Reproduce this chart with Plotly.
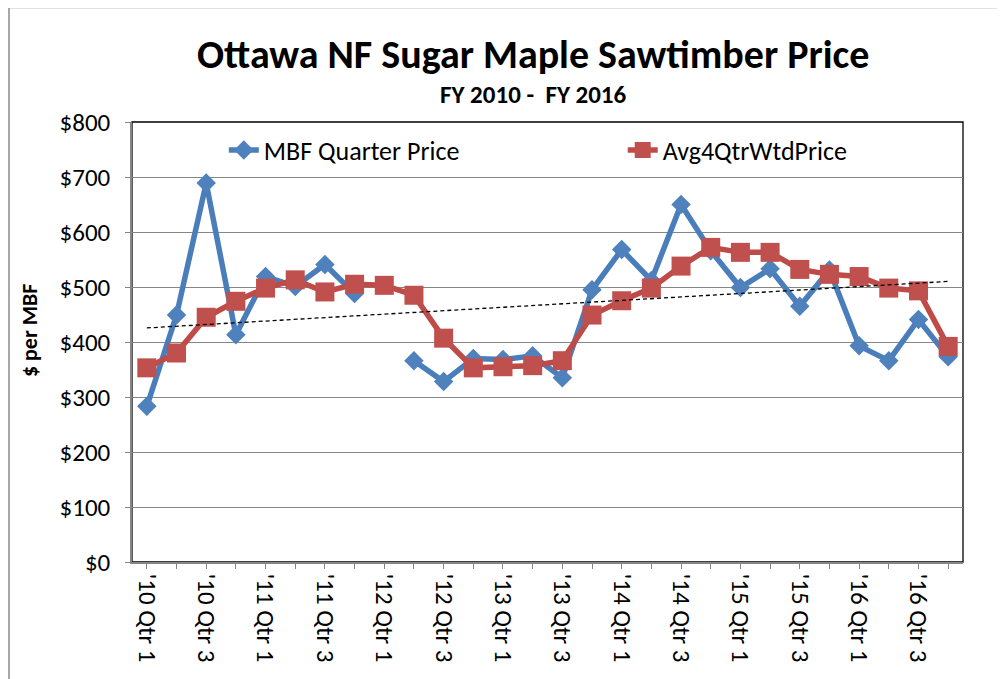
import numpy as np
import plotly.graph_objects as go

# quarters FY2010 Q1 .. FY2016 Q4
quarters = ["'%02d Qtr %d" % (y, q) for y in range(10, 17) for q in range(1, 5)]

# MBF Quarter Price (FY12 Qtr 1 has no sale)
mbf_price = [283, 449, 689, 413, 519, 501, 541, 488,
             None, 366, 328, 370, 368, 375, 335, 495,
             568, 512, 650, 566, 499, 533, 465, 531,
             393, 366, 441, 373]

# 4 quarter weighted average
avg4_price = [353, 380, 445, 474, 498, 513, 491, 505,
              503, 485, 407, 353, 355, 357, 366, 449,
              475, 498, 538, 572, 563, 563, 532, 523,
              519, 498, 493, 392]

yticks = [0, 100, 200, 300, 400, 500, 600, 700, 800]

BLUE = "#4A7EBB"
RED = "#BE4B48"
FONT = "Carlito, Lato, sans-serif"

xs = np.arange(len(quarters))

# linear trendline of the weighted average (excel style)
slope, icpt = np.polyfit(xs, avg4_price, 1)
trend = slope * xs + icpt

fig = go.Figure()

fig.add_trace(go.Scatter(
    x=xs, y=mbf_price, name="MBF Quarter Price", mode="lines+markers",
    line=dict(color=BLUE, width=5.5),
    marker=dict(symbol="diamond", size=15, color="#4F81BD"),
    connectgaps=False, legend="legend"))

fig.add_trace(go.Scatter(
    x=xs, y=avg4_price, name="Avg4QtrWtdPrice", mode="lines+markers",
    line=dict(color=RED, width=5.5),
    marker=dict(symbol="square", size=19, color="#C0504D"),
    legend="legend2"))

fig.add_trace(go.Scatter(
    x=xs, y=trend, mode="lines", showlegend=False,
    line=dict(color="black", width=1.3, dash="4px,3px")))

leg = dict(orientation="h", y=0.936, yanchor="middle", xanchor="left",
           bgcolor="rgba(0,0,0,0)", font=dict(size=26))

# page body has an 8px margin, so the figure is shifted back by that much
fig.update_layout(
    width=1005, height=679,
    margin=dict(l=124, r=50, t=114, b=125),
    paper_bgcolor="white", plot_bgcolor="white",
    font=dict(family=FONT, color="black", size=25),
    legend=dict(leg, x=0.1105),
    legend2=dict(leg, x=0.5905),
    xaxis=dict(range=[-0.5, 27.5], tickmode="array",
               tickvals=list(xs[::2]), ticktext=quarters[::2],
               tickangle=90, tickfont=dict(size=25),
               ticks="outside", ticklen=5, tickcolor="#868686",
               minor=dict(dtick=1, tick0=0, ticks="outside", ticklen=5,
                          tickcolor="#868686"),
               showline=True, linecolor="#868686", linewidth=1.5,
               showgrid=False, zeroline=False),
    yaxis=dict(range=[0, 800], tickmode="array", tickvals=yticks,
               ticktext=["$%d" % v for v in yticks],
               ticks="outside", ticklen=5, tickcolor="#868686",
               ticklabelstandoff=10,
               showgrid=True, gridcolor="#868686", gridwidth=1,
               showline=True, linecolor="#868686", linewidth=1.5,
               zeroline=False),
)

# plot area border and chart border
fig.add_shape(type="rect", xref="paper", yref="paper", x0=0, x1=1, y0=0, y1=1,
              line=dict(color="black", width=1.3), layer="below")
fig.add_shape(type="rect", xref="paper", yref="paper",
              x0=-0.148, x1=1.1, y0=-0.5, y1=1.26,
              line=dict(color="#8C8C8C", width=1.5), layer="below")

fig.add_annotation(text="<b>Ottawa NF Sugar Maple Sawtimber Price</b>",
                   xref="paper", yref="paper", x=0.4826, y=1.1545,
                   xanchor="center", yanchor="middle", showarrow=False,
                   font=dict(size=40))
fig.add_annotation(text="<b>FY 2010 -  FY 2016</b>",
                   xref="paper", yref="paper", x=0.4826, y=1.0614,
                   xanchor="center", yanchor="middle", showarrow=False,
                   font=dict(size=25))
fig.add_annotation(text="<b>$ per MBF</b>", textangle=-90,
                   xref="paper", yref="paper", x=-0.124, y=0.527,
                   xanchor="center", yanchor="middle", showarrow=False,
                   font=dict(size=22))

fig.write_html("out.html")
